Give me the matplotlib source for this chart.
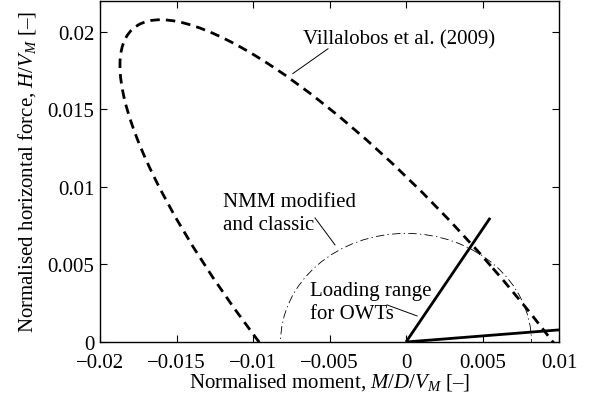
import matplotlib
matplotlib.use("Agg")
import matplotlib.pyplot as plt
from matplotlib.patches import Ellipse

plt.rcParams["font.family"] = ["Liberation Serif", "DejaVu Serif"]
plt.rcParams["mathtext.fontset"] = "custom"
plt.rcParams["mathtext.rm"] = "Liberation Serif"
plt.rcParams["mathtext.it"] = "Liberation Serif:italic"
plt.rcParams["font.size"] = 15

# Yield surfaces in the normalised M/D/V_M - H/V_M plane (centre, full width, full height, rotation in degrees)
villalobos_ellipse = {"center": (0.0, 0.0), "width": 0.0539, "height": 0.0148, "angle": 131.5}
nmm_ellipse = {"center": (0.0, 0.0), "width": 0.0164, "height": 0.0140, "angle": 0.0}

# Loading range for offshore wind turbines: two rays from the origin
load_lines_x = [[0.0, 0.0055], [0.0, 0.0100]]
load_lines_y = [[0.0, 0.0080], [0.0, 0.00078]]

x_ticks = [-0.02, -0.015, -0.01, -0.005, 0, 0.005, 0.01]
x_tick_labels = ["\u22120.02", "\u22120.015", "\u22120.01", "\u22120.005", "0", "0.005", "0.01"]
y_ticks = [0, 0.005, 0.01, 0.015, 0.02]
y_tick_labels = ["0", "0.005", "0.01", "0.015", "0.02"]

fig = plt.figure(figsize=(5.91, 4.02), dpi=100)
ax = fig.add_axes([0.1692, 0.1468, 0.7767, 0.849])

ax.add_patch(Ellipse(villalobos_ellipse["center"], villalobos_ellipse["width"],
                     villalobos_ellipse["height"], angle=villalobos_ellipse["angle"],
                     fill=False, edgecolor="black", linewidth=2.0,
                     linestyle=(0, (3.4, 2.2))))
ax.add_patch(Ellipse(nmm_ellipse["center"], nmm_ellipse["width"],
                     nmm_ellipse["height"], angle=nmm_ellipse["angle"],
                     fill=False, edgecolor="black", linewidth=0.6,
                     linestyle=(0, (10, 4, 1.5, 4))))
for lx, ly in zip(load_lines_x, load_lines_y):
    ax.plot(lx, ly, color="black", linewidth=2.0, solid_capstyle="butt")

# Labels with leader lines
ax.text(-0.00673, 0.01955, "Villalobos et al. (2009)", ha="left", va="center")
ax.plot([-0.0051, -0.0074], [0.0189, 0.0173], color="black", linewidth=0.7)

ax.text(-0.01196, 0.0083, "NMM modified\nand classic", ha="left", va="center",
        linespacing=1.3)
ax.plot([-0.00595, -0.00464], [0.0080, 0.00626], color="black", linewidth=0.7)

ax.text(-0.00627, 0.00258, "Loading range\nfor OWTs", ha="left", va="center",
        linespacing=1.25)
ax.plot([-0.00124, 0.00072], [0.00239, 0.00168], color="black", linewidth=0.7)

ax.set_xlim(-0.02, 0.01)
ax.set_ylim(0, 0.022)
ax.set_xticks(x_ticks)
ax.set_xticklabels(x_tick_labels)
ax.set_yticks(y_ticks)
ax.set_yticklabels(y_tick_labels)
ax.tick_params(direction="in", length=5, width=0.8, top=True, right=True,
               labelsize=15)
ax.tick_params(axis="x", pad=8)
ax.tick_params(axis="y", pad=4)
for s in ax.spines.values():
    s.set_linewidth(1.0)

ax.set_xlabel("Normalised moment, $M/D/V_M$ [\u2013]", labelpad=-1)
ax.set_ylabel("Normalised horizontal force, $H/V_M$ [\u2013]", labelpad=7)

fig.savefig("out.png", dpi=100)
